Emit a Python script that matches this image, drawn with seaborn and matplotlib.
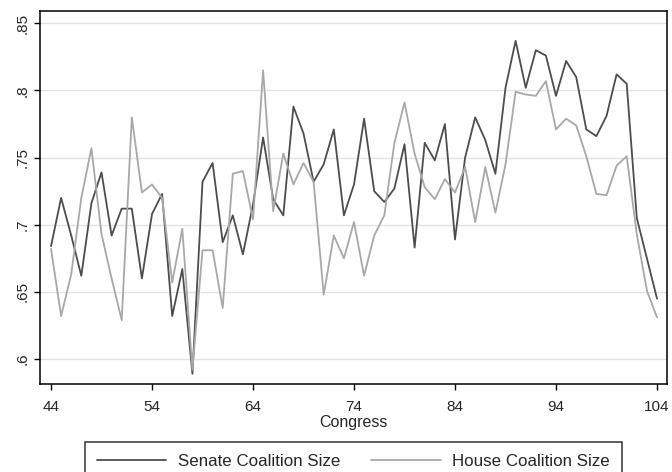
import matplotlib
matplotlib.use("Agg")
import matplotlib.pyplot as plt
import seaborn as sns
import pandas as pd
import numpy as np

congress = list(range(44, 105))
senate = [0.684, 0.720, 0.692, 0.662, 0.716, 0.739, 0.692, 0.712, 0.712, 0.660,
          0.708, 0.723, 0.632, 0.667, 0.589, 0.732, 0.746, 0.687, 0.707, 0.678,
          0.715, 0.765, 0.719, 0.707, 0.788, 0.768, 0.732, 0.745, 0.771, 0.707,
          0.730, 0.779, 0.725, 0.717, 0.727, 0.760, 0.683, 0.761, 0.748, 0.775,
          0.689, 0.750, 0.780, 0.763, 0.738, 0.802, 0.837, 0.802, 0.830, 0.826,
          0.796, 0.822, 0.810, 0.771, 0.766, 0.781, 0.812, 0.805, 0.705, 0.675,
          0.645]
house = [0.682, 0.632, 0.663, 0.720, 0.757, 0.693, 0.660, 0.629, 0.780, 0.724,
         0.730, 0.720, 0.657, 0.697, 0.592, 0.681, 0.681, 0.638, 0.738, 0.740,
         0.704, 0.815, 0.710, 0.753, 0.730, 0.746, 0.732, 0.648, 0.692, 0.675,
         0.702, 0.662, 0.692, 0.707, 0.761, 0.791, 0.753, 0.728, 0.719, 0.734,
         0.724, 0.743, 0.702, 0.743, 0.709, 0.745, 0.799, 0.797, 0.796, 0.807,
         0.771, 0.779, 0.774, 0.751, 0.723, 0.722, 0.744, 0.751, 0.693, 0.651,
         0.631]
series_names = ["Senate Coalition Size", "House Coalition Size"]
xticks = [44, 54, 64, 74, 84, 94, 104]
yticks = [0.6, 0.65, 0.7, 0.75, 0.8, 0.85]
ytick_labels = [".6", ".65", ".7", ".75", ".8", ".85"]

df = pd.DataFrame({
    "Congress": congress * 2,
    "value": senate + house,
    "series": [series_names[0]] * len(senate) + [series_names[1]] * len(house),
})

sns.set_style("white")
plt.rcParams["font.family"] = ["Liberation Sans", "DejaVu Sans"]

fig = plt.figure(figsize=(6.72, 4.72), dpi=100)
ax = fig.add_axes([40 / 672, 1 - 384 / 472, 627 / 672, 373 / 472])

palette = {series_names[0]: "#4d4d4d", series_names[1]: "#a8a8a8"}
sns.lineplot(data=df, x="Congress", y="value", hue="series", palette=palette,
             linewidth=1.3, ax=ax, legend=True)

for y in yticks:
    ax.axhline(y, color="#e3e3e3", linewidth=1.0, zorder=0)

ax.set_xlim(42.91, 104.99)
ax.set_ylim(0.5814, 0.8592)
ax.set_xticks(xticks)
ax.set_xticklabels([str(t) for t in xticks], fontsize=11)
ax.set_yticks(yticks)
ax.set_yticklabels(ytick_labels, fontsize=11, rotation=90, va="center")
ax.set_xlabel("Congress", fontsize=11.5, labelpad=1)
ax.set_ylabel("")
ax.tick_params(direction="out", length=4.5, width=1, color="black", pad=3)
ax.tick_params(axis="x", pad=7)
ax.tick_params(axis="both", which="both", bottom=True, left=True)
for s in ax.spines.values():
    s.set_color("black")
    s.set_linewidth(1.1)
    s.set_visible(True)

handles, labels = ax.get_legend_handles_labels()
ax.legend_.remove()
leg = fig.legend(handles, labels, loc="upper center",
                 bbox_to_anchor=(353.5 / 672, 1 - 442 / 472), ncol=2,
                 fontsize=12.2, frameon=True, fancybox=False, edgecolor="black",
                 handlelength=4.1, handletextpad=0.7, columnspacing=1.8,
                 borderpad=0.7, borderaxespad=0)
leg.get_frame().set_linewidth(1.1)

fig.savefig("out.png", dpi=100, facecolor="white")
